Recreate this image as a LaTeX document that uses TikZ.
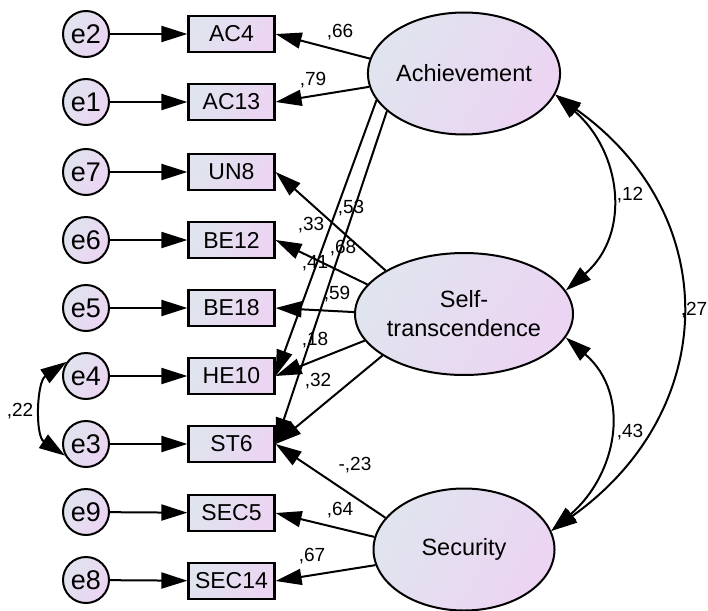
\documentclass[tikz,border=0pt]{standalone}
\usepackage{fontspec}
\setmainfont{Liberation Sans}
\usetikzlibrary{arrows.meta,shapes.geometric}
\definecolor{shadeA}{RGB}{224,228,238}
\definecolor{shadeB}{RGB}{236,212,243}
\begin{document}
\begin{tikzpicture}[x=1pt,y=-1pt,
  grad/.style={left color=shadeA,right color=shadeB,shading angle=60},
  errvar/.style={circle,draw,line width=2pt,grad,minimum size=46pt,inner sep=0pt,
    font=\fontsize{27}{27}\selectfont},
  item/.style={rectangle,draw,line width=2.2pt,grad,minimum width=86pt,minimum height=36pt,
    inner sep=0pt,font=\fontsize{23}{23}\selectfont},
  factor/.style={ellipse,draw,line width=2pt,grad,minimum width=181pt,minimum height=122pt,
    inner sep=0pt,align=center,font=\fontsize{23.5}{29}\selectfont},
  load/.style={line width=2pt,-{Triangle[length=26pt,width=16pt]}},
  cov/.style={line width=2pt,{Triangle[length=26pt,width=16pt]}-{Triangle[length=26pt,width=16pt]}},
  coef/.style={inner sep=0pt,font=\fontsize{19}{19}\selectfont}
]
\useasboundingbox (0,0) rectangle (708,610);

% error terms
\node[errvar] (e2) at (86,34)  {e2};
\node[errvar] (e1) at (86,102) {e1};
\node[errvar] (e7) at (86,172) {e7};
\node[errvar] (e6) at (86,240) {e6};
\node[errvar] (e5) at (86,308) {e5};
\node[errvar] (e4) at (86,376) {e4};
\node[errvar] (e3) at (86,444) {e3};
\node[errvar] (e9) at (86,512) {e9};
\node[errvar] (e8) at (86,580) {e8};

% observed items
\node[item] (AC4)   at (231.5,34)  {AC4};
\node[item] (AC13)  at (231.5,102) {AC13};
\node[item] (UN8)   at (231.5,172) {UN8};
\node[item] (BE12)  at (231.5,240) {BE12};
\node[item] (BE18)  at (231.5,308) {BE18};
\node[item] (HE10)  at (231.5,376) {HE10};
\node[item] (ST6)   at (231.5,444) {ST6};
\node[item] (SEC5)  at (231.5,513) {SEC5};
\node[item] (SEC14) at (231.5,581) {SEC14};

% latent factors
\node[factor] (ach)  at (464,73.5) {Achievement};
\node[factor] (self) at (464,314)  {Self-\\transcendence};
\node[factor] (sec)  at (464,549.5) {Security};

% error paths
\foreach \e/\v in {e2/AC4,e1/AC13,e7/UN8,e6/BE12,e5/BE18,e4/HE10,e3/ST6,e9/SEC5,e8/SEC14}
  \draw[load] (\e) -- (\v);

% factor loadings
\draw[load] (ach.171.4) -- (AC4.east);
\draw[load] (ach.188.6) -- (AC13.east);
\draw[load] (ach.197.5) -- (HE10.east);
\draw[load] (ach.206.3) -- (ST6.east);
\draw[load] (self.151)   -- (UN8.east);
\draw[load] (self.163.2) -- (BE12.east);
\draw[load] (self.179.4) -- (BE18.east);
\draw[load] (self.195)   -- (HE10.east);
\draw[load] (self.207.8) -- (ST6.east);
\draw[load] (sec.158.9)  -- (ST6.east);
\draw[load] (sec.172)    -- (SEC5.east);
\draw[load] (sec.190)    -- (SEC14.east);

% covariances
\draw[cov] (ach.347) .. controls +(66,57) and +(66,-57) .. (self.13.7);
\draw[cov] (self.347.5) .. controls +(66,57) and +(66,-57) .. (sec.12.8);
\draw[cov] (ach.347) .. controls +(169,120) and +(169,-120) .. (sec.12.8);
\draw[cov] (e4.144) .. controls +(-30,20) and +(-30,-20) .. (e3.209);

% estimates
\node[coef] (l66) at (340,32)  {,66};
\node[coef] (l79) at (313,80)  {,79};
\node[coef] (l53) at (351,208) {,53};
\node[coef] (l33) at (311,225) {,33};
\node[coef] (l68) at (343,248) {,68};
\node[coef] (l41) at (315,263) {,41};
\node[coef] (l59) at (337,294) {,59};
\node[coef] (l18) at (315,340) {,18};
\node[coef] (l32) at (318,381) {,32};
\node[coef] (l23) at (355,465) {-,23};
\node[coef] (l64) at (340,510) {,64};
\node[coef] (l67) at (312,556) {,67};
\node[coef] (l12) at (630,195) {,12};
\node[coef] (l43) at (630,432) {,43};
\node[coef,anchor=east] (l27) at (707.5,310) {,27};
\node[coef] (l22) at (20,411)  {,22};
\end{tikzpicture}
\end{document}
